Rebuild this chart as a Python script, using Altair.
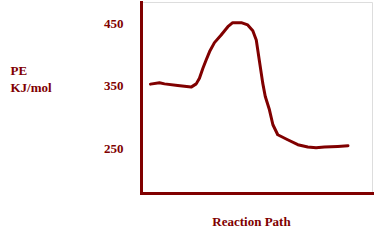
import altair as alt
import pandas as pd

# Reaction path coordinate (arbitrary units) and potential energy (kJ/mol)
path = [4.1, 8.0, 10.2, 15.9, 21.7, 23.9, 25.3, 26.8, 28.2, 29.7, 31.8, 34.7,
        37.6, 39.7, 43.4, 46.2, 48.4, 49.9, 51.3, 52.7, 53.8, 55.6, 57.1, 59.2,
        63.5, 67.9, 72.2, 75.8, 79.4, 85.2, 89.6]
pe = [353.0, 355.1, 353.4, 350.7, 348.2, 353.4, 362.6, 378.6, 391.9, 405.3,
      419.7, 432.0, 445.3, 451.8, 451.8, 448.1, 438.9, 424.0, 389.2, 354.6,
      333.1, 311.7, 287.7, 271.6, 263.6, 255.6, 251.9, 250.8, 251.9, 252.9,
      254.0]
y_ticks = [250, 350, 450]

df = pd.DataFrame({"path": path, "pe": pe})

RED = "#800000"
FONT = "Liberation Serif"

chart = alt.Chart(df).mark_line(
    color=RED, strokeWidth=3, interpolate="linear", strokeCap="round", strokeJoin="round"
).encode(
    x=alt.X("path:Q",
            scale=alt.Scale(domain=[0, 100], nice=False, zero=False),
            axis=alt.Axis(
                title="Reaction Path", labels=False, ticks=False, grid=False,
                domainColor=RED, domainWidth=3, domainCap="square",
                titleFont=FONT, titleFontWeight="bold", titleFontSize=13,
                titleColor=RED, titleAlign="center", titleBaseline="alphabetic",
                titleX=110, titleY=32)),
    y=alt.Y("pe:Q",
            scale=alt.Scale(domain=[178, 485], nice=False, zero=False),
            axis=alt.Axis(
                title=["PE", "KJ/mol"], values=y_ticks, ticks=False, grid=False,
                domainColor=RED, domainWidth=3, domainCap="square",
                labelFont=FONT, labelFontWeight="bold", labelFontSize=13,
                labelColor=RED, labelPadding=18,
                titleFont=FONT, titleFontWeight="bold", titleFontSize=13,
                titleColor=RED, titleAngle=0, titleAlign="left",
                titleBaseline="alphabetic", titleX=-131, titleY=72.5,
                titleLineHeight=17)),
).properties(
    width=231, height=191,
    autosize=alt.AutoSizeParams(type="none"),
    padding={"left": 141, "top": 2, "right": 4, "bottom": 49},
).configure_view(stroke=None).configure(background="white")

chart.save("out.html", embed_options={"renderer": "svg", "actions": False})
